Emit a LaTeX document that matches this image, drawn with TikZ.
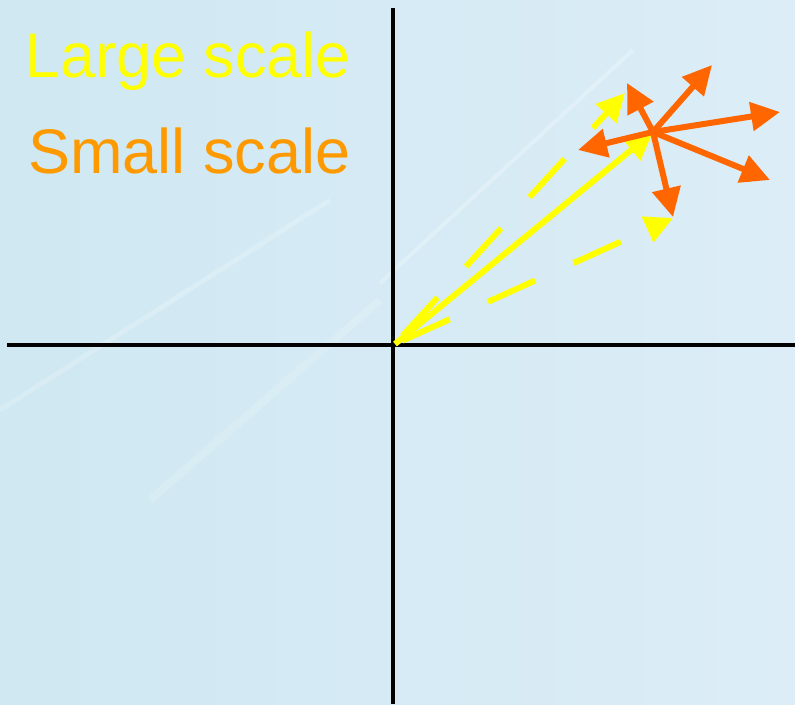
\documentclass[tikz,border=0pt]{standalone}
\usepackage{fontspec}
\setmainfont{Liberation Sans}
\usetikzlibrary{arrows.meta}
\definecolor{skyleft}{HTML}{CFE8F2}
\definecolor{skyright}{HTML}{DCEDF7}
\definecolor{largecol}{HTML}{FFFF00}
\definecolor{smallcol}{HTML}{FF6600}
\definecolor{smalltext}{HTML}{FF9900}
\tikzset{
  largevec/.style={largecol, line width=6pt, -{Triangle[length=28pt,width=27pt]}},
  largedash/.style={largevec, dash pattern=on 52pt off 42pt},
  smallvec/.style={smallcol, line width=6pt, -{Triangle[length=29pt,width=28pt]}},
  label/.style={anchor=base west, inner sep=0pt, font=\fontsize{63}{70}\selectfont}
}

\begin{document}
\begin{tikzpicture}[x=1pt,y=-1pt]
\useasboundingbox (0,0) rectangle (795,704);
\shade[left color=skyleft, right color=skyright] (0,0) rectangle (795,704);
\draw[white, opacity=0.2, line width=5pt] (0,410) -- (330,200);
\draw[white, opacity=0.25, line width=4pt] (380,283) -- (633,50);
\draw[white, opacity=0.15, line width=8pt] (150,500) -- (380,300);
\draw[line width=3.5pt] (393,8) -- (393,704);
\draw[line width=3.5pt] (7,345) -- (795,345);
\node[label, text=largecol] (large) at (25,77) {Large scale};
\node[label, text=smalltext] (small) at (28,173) {Small scale};
\coordinate (O) at (395,344);
\coordinate (C) at (653,132);
\coordinate (L1) at (625,93);
\coordinate (L2) at (673,218);
\draw[largedash, dash phase=83pt] (O) -- (L1);
\draw[largedash, dash phase=86pt] (O) -- (L2);
\draw[largevec] (O) -- (C);
\draw[smallvec] (C) -- (627,83);
\draw[smallvec] (C) -- (712,65);
\draw[smallvec] (C) -- (780,112);
\draw[smallvec] (C) -- (770,180);
\draw[smallvec] (C) -- (673,217);
\draw[smallvec] (C) -- (578,150);
\end{tikzpicture}
\end{document}
